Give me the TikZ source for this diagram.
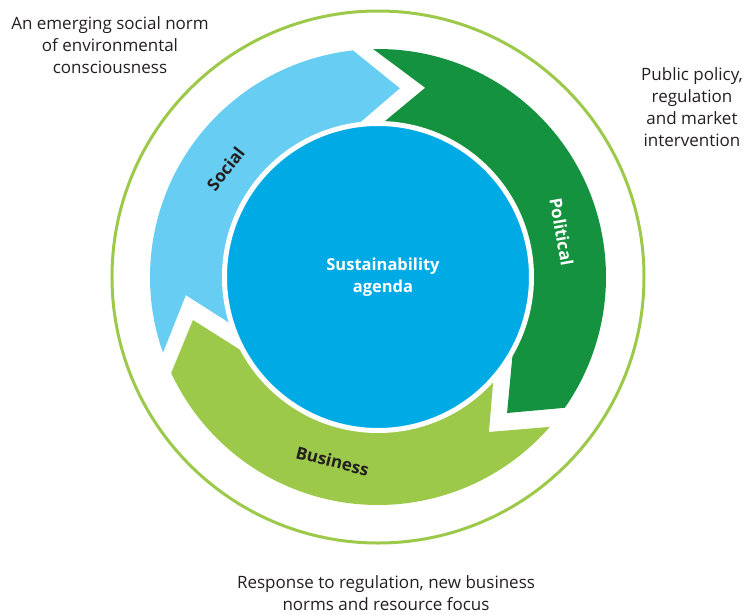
\documentclass[tikz,border=0pt]{standalone}
\usepackage{fontspec}
\setmainfont{Open Sans}
\definecolor{socialblue}{RGB}{104,205,242}
\definecolor{politicgreen}{RGB}{21,146,63}
\definecolor{businessgreen}{RGB}{157,201,75}
\definecolor{agendablue}{RGB}{0,170,229}
\definecolor{textgray}{RGB}{35,31,32}

\begin{document}
\begin{tikzpicture}[x=1pt,y=1pt,
  arrowlabel/.style={font=\fontsize{17}{20}\selectfont\bfseries},
  outertext/.style={align=center,text=textgray,font=\fontsize{17}{22}\selectfont}]
\useasboundingbox (-378,-337) rectangle (369,277);

% Cercle extérieur
\draw[businessgreen,line width=3] (0,0) circle (266);

% Les flèches
\fill[socialblue] (199.4:228) arc[start angle=199.4,end angle=96.3,radius=228]
    -- (83.4:190) -- (102.6:146)
    arc[start angle=102.6,end angle=201.8,radius=146]
    -- (185.4:193) -- cycle;
\fill[politicgreen] (91.2:228) arc[start angle=91.2,end angle=-35,radius=228]
    -- (-46.5:187.5) -- (-20:146)
    arc[start angle=-20,end angle=92,radius=146]
    -- (76:195) -- cycle;
\fill[businessgreen] (-41.1:228) arc[start angle=-41.1,end angle=-155.1,radius=228]
    -- (-166.9:190) -- (-144.5:146)
    arc[start angle=-144.5,end angle=-37,radius=146]
    -- (-54.4:190.6) -- cycle;

% Le cercle central
\node[circle,fill=agendablue,draw=white,line width=5,minimum size=307,inner sep=0,
  align=center,text=white,font=\fontsize{16.5}{22}\selectfont\bfseries] (agenda) at (0,0)
  {\hspace*{10pt}Sustainability\\\hspace*{10pt}agenda};

% Les noms des flèches
\node[arrowlabel,text=textgray,rotate=52] (social) at (144.6:187) {Social};
\node[arrowlabel,text=white,rotate=-80] (political) at (13.8:189) {Political};
\node[arrowlabel,text=textgray,rotate=-14] (business) at (-103.9:189.5) {Business};

% Les textes autour
\node[outertext] (socialnote) at (-268,232) {An emerging social norm\\of environmental\\consciousness};
\node[outertext] (politicnote) at (314,170) {Public policy,\\regulation\\and market\\intervention};
\node[outertext] (businessnote) at (8,-316.5) {Response to regulation, new business\\norms and resource focus};

\end{tikzpicture}
\end{document}
